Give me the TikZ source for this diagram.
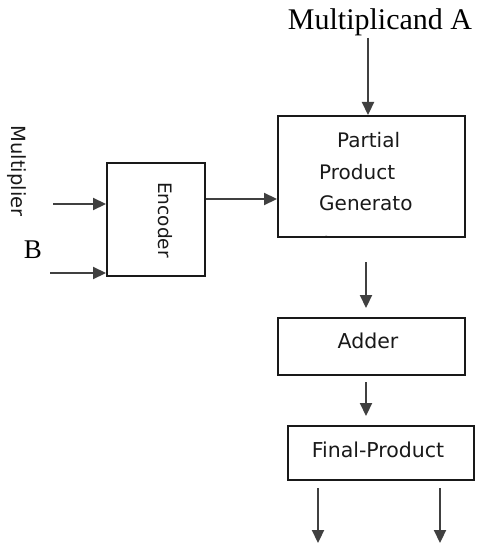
\documentclass[tikz,border=0pt]{standalone}
\usepackage{fontspec}
\setmainfont{Liberation Serif}
\newfontfamily\boxfont{DejaVu Sans}
\usetikzlibrary{arrows.meta}
\tikzset{
  blk/.style={draw=black!90, line width=2pt, inner sep=0pt},
  arr/.style={draw=black!75, line width=2.2pt, -{Triangle[length=13pt,width=12pt]}, shorten >=0pt},
  lbl/.style={inner sep=0pt, font=\boxfont\fontsize{20}{24}\selectfont, text=black!90},
  slbl/.style={inner sep=0pt, font=\fontsize{30}{32}\selectfont, text=black},
}
\begin{document}
\begin{tikzpicture}[x=1pt,y=-1pt]
\useasboundingbox (0,0) rectangle (477,545);
% boxes
\node[blk, minimum width=187pt, minimum height=121pt] (ppg) at (371.5,176.5) {};
\node[blk, minimum width=98pt, minimum height=113pt] (enc) at (156,219.5) {};
\node[blk, minimum width=187pt, minimum height=57pt] (add) at (371.5,346.5) {};
\node[blk, minimum width=186pt, minimum height=54pt] (fin) at (381,453) {};
% texts
\node[slbl] (ma) at (380,22) {Multiplicand A};
\node[slbl, font=\fontsize{27}{30}\selectfont] (b) at (33,250) {B};
\node[lbl, rotate=-90, font=\boxfont\fontsize{19.5}{24}\selectfont] (mul) at (17,171) {Multiplier};
\node[lbl, rotate=-90, font=\boxfont\fontsize{18.5}{24}\selectfont] (enct) at (165,220) {Encoder};
\node[lbl, anchor=west] (p1) at (337,140) {Partial};
\node[lbl, anchor=west] (p2) at (319,172) {Product};
\node[lbl, anchor=west] (p3) at (319,203) {Generato};
\begin{scope}
\clip (300,226) rectangle (340,236);
\node[lbl, anchor=west] (p4) at (319,242) {r};
\end{scope}
\node[lbl, font=\boxfont\fontsize{20.5}{24}\selectfont] (addt) at (368,341) {Adder};
\node[lbl, font=\boxfont\fontsize{20.5}{24}\selectfont] (fint) at (378,450) {Final-Product};
% coordinates
\coordinate (mA) at (368,38);
\coordinate (mB1) at (53,204);
\coordinate (mB2) at (50,273);
\coordinate (ppgS) at (366,262);
\coordinate (ppgE) at (366,308);
\coordinate (addS) at (366,382);
\coordinate (addE) at (366,416);
\coordinate (o1s) at (318,488);
\coordinate (o1e) at (318,543);
\coordinate (o2s) at (440,488);
\coordinate (o2e) at (440,543);
% arrows
\draw[arr] (mA) -- (mA |- ppg.north);
\draw[arr] (mB1) -- (mB1 -| enc.west);
\draw[arr] (mB2) -- (mB2 -| enc.west);
\draw[arr] (enc.east |- 0,199) -- (ppg.west |- 0,199);
\draw[arr] (ppgS) -- (ppgE);
\draw[arr] (addS) -- (addE);
\draw[arr] (o1s) -- (o1e);
\draw[arr] (o2s) -- (o2e);
\end{tikzpicture}
\end{document}
